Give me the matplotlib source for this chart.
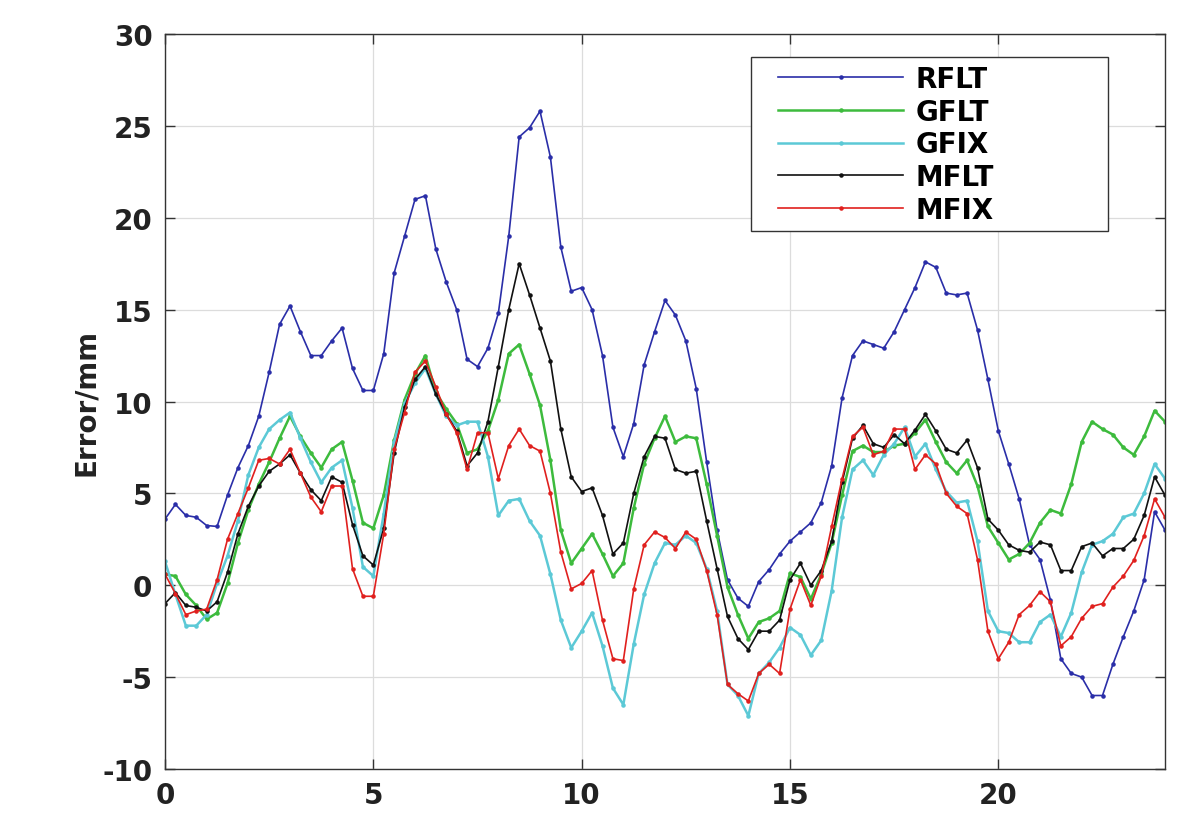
import numpy as np
import matplotlib
matplotlib.use("Agg")
import matplotlib.pyplot as plt
from matplotlib.patches import Rectangle

plt.rcParams["axes.unicode_minus"] = False

# Time axis (hours), sampled every 0.25 h
hours = np.arange(0, 24.01, 0.25)

rflt = [3.6, 4.4, 3.8, 3.7, 3.25, 3.2, 4.9, 6.4, 7.6, 9.2, 11.6, 14.2, 15.2, 13.8, 12.5, 12.5,
        13.3, 14.0, 11.8, 10.6, 10.6, 12.6, 17.0, 19.0, 21.0, 21.2, 18.3, 16.5, 15.0, 12.3, 11.9, 12.9,
        14.8, 19.0, 24.4, 24.9, 25.8, 23.3, 18.4, 16.0, 16.2, 15.0, 12.5, 8.6, 7.0, 8.8, 12.0, 13.8,
        15.5, 14.7, 13.3, 10.7, 6.7, 3.0, 0.3, -0.7, -1.15, 0.2, 0.85, 1.7, 2.4, 2.9, 3.4, 4.5,
        6.5, 10.2, 12.5, 13.3, 13.1, 12.9, 13.8, 15.0, 16.2, 17.6, 17.3, 15.9, 15.8, 15.9, 13.9, 11.2,
        8.4, 6.6, 4.7, 2.2, 1.4, -0.8, -4.0, -4.8, -5.0, -6.0, -6.0, -4.3, -2.8, -1.4, 0.3, 4.0,
        3.0]

gflt = [0.6, 0.5, -0.5, -1.1, -1.85, -1.5, 0.1, 2.3, 4.1, 5.5, 6.7, 8.0, 9.2, 8.1, 7.2, 6.4,
        7.4, 7.8, 5.7, 3.4, 3.1, 4.9, 7.9, 10.1, 11.5, 12.5, 10.5, 9.6, 8.8, 7.2, 7.4, 8.4,
        10.1, 12.6, 13.1, 11.5, 9.8, 6.8, 3.0, 1.2, 2.0, 2.8, 1.7, 0.5, 1.2, 4.2, 6.6, 8.0,
        9.2, 7.8, 8.1, 8.0, 5.5, 2.7, -0.1, -1.6, -2.9, -2.0, -1.8, -1.4, 0.65, 0.45, -0.75, 0.6,
        2.3, 4.9, 7.3, 7.6, 7.25, 7.25, 7.6, 7.7, 8.3, 9.0, 7.8, 6.7, 6.1, 6.8, 5.4, 3.2,
        2.3, 1.4, 1.7, 2.3, 3.4, 4.1, 3.9, 5.5, 7.8, 8.9, 8.5, 8.2, 7.5, 7.1, 8.1, 9.5,
        8.9]

gfix = [1.3, -0.5, -2.2, -2.2, -1.6, 0.1, 1.6, 3.5, 6.0, 7.5, 8.5, 9.0, 9.4, 8.0, 6.7, 5.6,
        6.4, 6.8, 4.2, 1.0, 0.5, 3.9, 7.8, 9.9, 11.0, 11.8, 10.4, 9.2, 8.7, 8.9, 8.9, 7.0,
        3.8, 4.6, 4.7, 3.5, 2.7, 0.6, -1.9, -3.4, -2.5, -1.5, -3.3, -5.6, -6.5, -3.2, -0.5, 1.2,
        2.3, 2.2, 2.7, 2.3, 0.9, -1.4, -5.4, -6.0, -7.1, -4.8, -4.2, -3.4, -2.3, -2.7, -3.8, -3.0,
        -0.3, 3.7, 6.3, 6.8, 6.0, 7.1, 7.7, 8.6, 7.0, 7.7, 6.3, 5.1, 4.5, 4.6, 2.4, -1.4,
        -2.5, -2.6, -3.1, -3.1, -2.0, -1.6, -2.8, -1.5, 0.7, 2.2, 2.4, 2.8, 3.7, 3.9, 5.0, 6.6,
        5.8]

mflt = [-1.0, -0.4, -1.1, -1.2, -1.4, -0.9, 0.7, 2.8, 4.3, 5.4, 6.2, 6.6, 7.1, 6.1, 5.2, 4.6,
        5.9, 5.6, 3.3, 1.6, 1.1, 3.1, 7.2, 9.7, 11.2, 11.9, 10.4, 9.3, 8.4, 6.5, 7.2, 8.9,
        11.9, 15.0, 17.5, 15.8, 14.0, 12.2, 8.5, 5.9, 5.1, 5.3, 3.8, 1.7, 2.3, 5.0, 7.0, 8.1,
        8.0, 6.3, 6.1, 6.2, 3.5, 0.9, -1.7, -2.9, -3.5, -2.5, -2.5, -1.9, 0.3, 1.2, 0.0, 0.8,
        2.4, 5.6, 8.0, 8.7, 7.7, 7.5, 8.2, 7.7, 8.45, 9.3, 8.4, 7.4, 7.2, 7.9, 6.4, 3.6,
        3.0, 2.2, 1.9, 1.8, 2.35, 2.2, 0.8, 0.8, 2.1, 2.3, 1.6, 2.0, 2.0, 2.5, 3.8, 5.9,
        4.9]

mfix = [0.6, -0.45, -1.6, -1.4, -1.3, 0.3, 2.5, 3.9, 5.3, 6.8, 6.9, 6.6, 7.4, 6.1, 4.8, 4.0,
        5.4, 5.4, 0.9, -0.6, -0.6, 2.8, 7.4, 9.4, 11.6, 12.2, 10.8, 9.3, 8.3, 6.3, 8.3, 8.3,
        5.8, 7.6, 8.5, 7.6, 7.3, 5.0, 1.8, -0.2, 0.1, 0.8, -1.9, -4.0, -4.1, -0.2, 2.2, 2.9,
        2.6, 2.0, 2.9, 2.5, 0.8, -1.6, -5.4, -5.9, -6.3, -4.8, -4.3, -4.8, -1.3, 0.3, -1.1, 0.5,
        3.2, 5.8, 8.1, 8.6, 7.1, 7.3, 8.5, 8.5, 6.3, 7.1, 6.6, 5.0, 4.3, 3.9, 1.4, -2.5,
        -4.0, -3.1, -1.6, -1.1, -0.35, -0.9, -3.3, -2.8, -1.8, -1.15, -1.0, -0.1, 0.5, 1.35, 2.7, 4.7,
        3.7]

series_names = ["RFLT", "GFLT", "GFIX", "MFLT", "MFIX"]
series_values = [rflt, gflt, gfix, mflt, mfix]
colors = ["#2a2ea8", "#3dbb3d", "#5cc9d6", "#111111", "#e0201e"]
widths = [1.2, 1.8, 1.8, 1.2, 1.2]

x_ticks = [0, 5, 10, 15, 20]
y_ticks = [-10, -5, 0, 5, 10, 15, 20, 25, 30]

fig = plt.figure(figsize=(11.91, 8.28), dpi=100)
ax = fig.add_axes([165 / 1191, 1 - 770 / 828, 1000 / 1191, 735 / 828])

for name, vals, c, lw in zip(series_names, series_values, colors, widths):
    ax.plot(hours, vals, color=c, lw=lw, marker='.', markersize=4.5, label=name)

ax.set_xlim(0, 24)
ax.set_ylim(-10, 30)
ax.set_xticks(x_ticks)
ax.set_yticks(y_ticks)
ax.grid(True, color="#dcdcdc", lw=0.9)
ax.set_axisbelow(True)

for sp in ax.spines.values():
    sp.set_color("#333333")
    sp.set_linewidth(1.0)

ax.tick_params(direction="in", length=7, width=1, top=True, right=True,
               colors="#333333", labelcolor="#222222", labelsize=20, pad=9)
for lab in ax.get_xticklabels() + ax.get_yticklabels():
    lab.set_fontweight("bold")

ax.set_ylabel("Error/mm", fontsize=20, fontweight="bold", color="#222222", labelpad=2)
ax.set_xlabel("Time/Hour", fontsize=20, fontweight="bold", color="#222222", labelpad=12)

# legend frame and entries
ax.add_patch(Rectangle(((751 - 165) / 1000, (770 - 232) / 735), (1108 - 751) / 1000,
                       (232 - 58) / 735, transform=ax.transAxes, facecolor="white",
                       edgecolor="#333333", lw=1.0, zorder=5))
leg = ax.legend(loc="upper left", bbox_to_anchor=((778 - 165) / 1000, (770 - 66) / 735),
                frameon=False, borderpad=0, borderaxespad=0, handlelength=4.5,
                handletextpad=0.45, labelspacing=0.17, prop={"weight": "bold", "size": 20})
leg.set_zorder(6)

fig.savefig("out.png", dpi=100, facecolor="white")
